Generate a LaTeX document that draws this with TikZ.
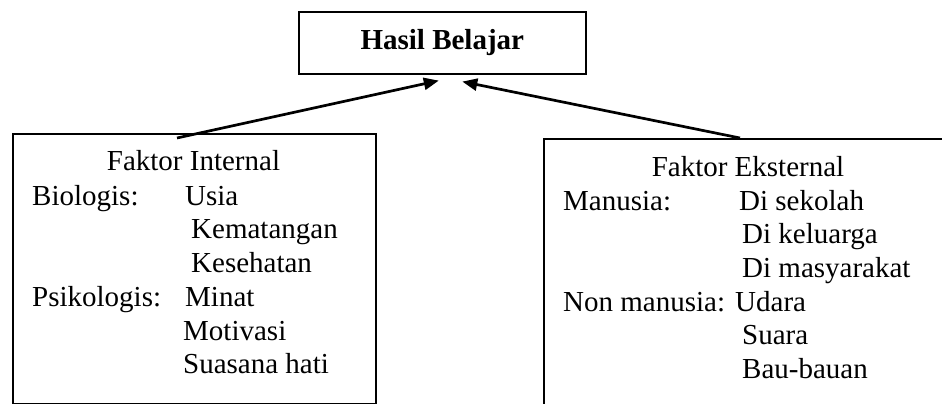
\documentclass[tikz,border=0pt]{standalone}
\usepackage{fontspec}
\setmainfont{Liberation Serif}
\usetikzlibrary{arrows.meta,calc}
\tikzset{
  kotak/.style={draw, line width=1.6pt, inner sep=0pt, anchor=north west},
  teks/.style={inner sep=0pt, anchor=base west, font=\fontsize{29pt}{34pt}\selectfont},
  panah/.style={line width=2.7pt, -{Triangle[length=15pt,width=12pt]}}
}
\begin{document}
\begin{tikzpicture}[x=1pt,y=-1pt]
		%%%%% START %%%%%
		\useasboundingbox (0,0) rectangle (942,404);
		\clip (0,0) rectangle (942,404);
		
		\node[kotak, minimum width=287pt, minimum height=62pt, font=\fontsize{29pt}{34pt}\selectfont\bfseries] (hasil) at (298,11) {Hasil Belajar};
		\node[kotak, minimum width=363pt, minimum height=270pt] (internal) at (12,133) {};
		\node[kotak, minimum width=420pt, minimum height=300pt] (eksternal) at (543,138) {};
		
		\draw[panah] ($(internal.north west)+(165,5)$) -- ($(hasil.south)+(-3.5,6)$);
		\draw[panah] ($(eksternal.north west)+(197,0)$) -- ($(hasil.south)+(20,7)$);
		
		% faktor internal
		\node[teks, anchor=base] (fi) at (193.5,170.7) {Faktor Internal};
		\node[teks] (bio) at (32,205) {Biologis:};
		\node[teks] (usia) at (185,205) {Usia};
		\node[teks] (matang) at (191,238.5) {Kematangan};
		\node[teks] (sehat) at (191,272.5) {Kesehatan};
		\node[teks] (psi) at (32,306.5) {Psikologis:};
		\node[teks] (minat) at (185,306.5) {Minat};
		\node[teks] (motiv) at (183,340.5) {Motivasi};
		\node[teks] (suasana) at (183,373) {Suasana hati};
		
		% faktor eksternal
		\node[teks, anchor=base] (fe) at (748,176.7) {Faktor Eksternal};
		\node[teks] (manusia) at (563,210) {Manusia:};
		\node[teks] (sekolah) at (739,210) {Di sekolah};
		\node[teks] (keluarga) at (742,243.5) {Di keluarga};
		\node[teks] (masy) at (742,277.5) {Di masyarakat};
		\node[teks] (nonman) at (563,311) {Non manusia:};
		\node[teks] (udara) at (735,311) {Udara};
		\node[teks] (suara) at (742,344.5) {Suara};
		\node[teks] (bau) at (742,378) {Bau-bauan};
		%%%%% END %%%%%
\end{tikzpicture}
\end{document}
